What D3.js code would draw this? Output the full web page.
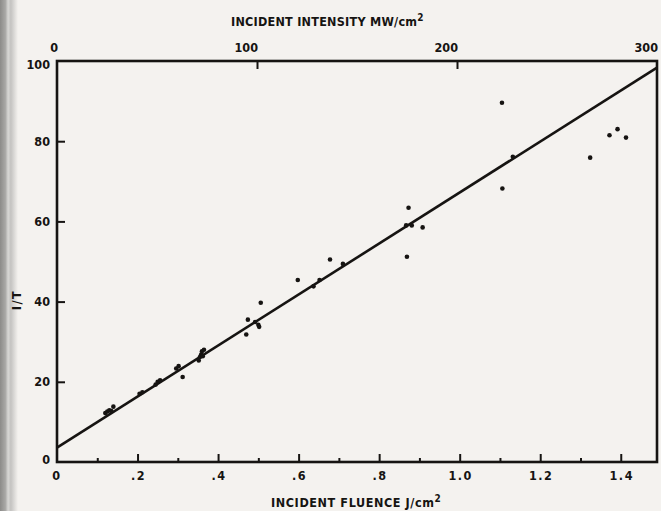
<!DOCTYPE html>
<html>
<head>
<meta charset="utf-8">
<script src="https://cdn.jsdelivr.net/npm/d3@7"></script>
<style>
  html, body { margin: 0; padding: 0; background: #f4f2ef; }
  svg { display: block; }
  text { font-family: "Liberation Sans Narrow", "DejaVu Sans Condensed", "Liberation Sans", sans-serif; font-weight: bold; fill: #161412; }
</style>
</head>
<body>
<svg id="chart" width="661" height="511"></svg>
<script>
// Measured transmission data: incident fluence (J/cm^2) vs 1/T
const fluence = [0.12, 0.125, 0.13, 0.135, 0.14, 0.205, 0.212, 0.245, 0.25, 0.256,
                 0.296, 0.302, 0.312, 0.352, 0.355, 0.358, 0.36, 0.362, 0.365,
                 0.47, 0.474, 0.492, 0.5, 0.502, 0.506, 0.598, 0.637, 0.652, 0.678, 0.71,
                 0.869, 0.873, 0.867, 0.881, 0.908, 1.106, 1.105, 1.132, 1.324, 1.372, 1.392, 1.413];
const invT    = [12.2, 12.6, 12.9, 12.7, 13.8, 17.0, 17.4, 19.3, 20.0, 20.4,
                 23.3, 23.9, 21.2, 25.3, 26.2, 26.8, 27.6, 26.4, 28.0,
                 31.8, 35.5, 34.9, 34.2, 33.7, 39.7, 45.4, 43.8, 45.4, 50.5, 49.4,
                 51.2, 63.4, 59.0, 59.0, 58.5, 68.2, 89.6, 76.1, 75.9, 81.5, 83.0, 80.9];

// Least-squares fit line: 1/T = intercept + slope * fluence
const fitIntercept = 3.6;
const fitSlope = 63.6;

// Axis ticks
const fluenceMajor = [0.2, 0.4, 0.6, 0.8, 1.0, 1.2, 1.4];
const fluenceMinor = [0.1, 0.3, 0.5, 0.7, 0.9, 1.1, 1.3];
const fluenceLabels = ["0", ".2", ".4", ".6", ".8", "1.0", "1.2", "1.4"];
const fluenceLabelValues = [0, 0.2, 0.4, 0.6, 0.8, 1.0, 1.2, 1.4];
const intensityTicks = [0, 100, 200, 300];
const invTTicks = [0, 20, 40, 60, 80, 100];

const svg = d3.select("#chart");
const plotL = 57, plotR = 657, plotT = 61, plotB = 462;

const x = d3.scaleLinear().domain([0, 1.49]).range([plotL, plotR]);
const xTop = d3.scaleLinear().domain([0, 300]).range([plotL, plotR]);
const y = d3.scaleLinear().domain([0, 100]).range([plotB, plotT]);

// scanner edge shading on the left margin
const defs = svg.append("defs");
const grad = defs.append("linearGradient").attr("id", "edge").attr("x1", 0).attr("x2", 1);
grad.append("stop").attr("offset", "0%").attr("stop-color", "#8c8b89");
grad.append("stop").attr("offset", "30%").attr("stop-color", "#a9a8a6");
grad.append("stop").attr("offset", "45%").attr("stop-color", "#d8d7d5");
grad.append("stop").attr("offset", "60%").attr("stop-color", "#c4c3c1");
grad.append("stop").attr("offset", "100%").attr("stop-color", "#f4f2ef");
svg.append("rect").attr("x", 0).attr("y", 0).attr("width", 18).attr("height", 511).attr("fill", "url(#edge)");

const ink = "#161412";

// frame
svg.append("rect")
  .attr("x", plotL).attr("y", plotT)
  .attr("width", plotR - plotL).attr("height", plotB - plotT)
  .attr("fill", "none").attr("stroke", ink).attr("stroke-width", 2.6);

// bottom axis ticks (inward)
const axisBottom = svg.append("g").attr("transform", `translate(0,${plotB})`)
  .call(d3.axisBottom(x).tickValues(fluenceMajor).tickSizeInner(-8).tickSizeOuter(0).tickFormat(""));
axisBottom.select(".domain").remove();
axisBottom.selectAll("line").attr("stroke", ink).attr("stroke-width", 2);
const axisBottomMinor = svg.append("g").attr("transform", `translate(0,${plotB})`)
  .call(d3.axisBottom(x).tickValues(fluenceMinor).tickSizeInner(-4).tickSizeOuter(0).tickFormat(""));
axisBottomMinor.select(".domain").remove();
axisBottomMinor.selectAll("line").attr("stroke", ink).attr("stroke-width", 2);

svg.append("g").selectAll("text").data(fluenceLabelValues).join("text")
  .attr("x", (d, i) => x(d) + (i === 0 ? 0 : 1))
  .attr("y", 480)
  .attr("text-anchor", "middle")
  .attr("font-size", 12.5)
  .attr("letter-spacing", 1.5)
  .text((d, i) => fluenceLabels[i]);

// left axis ticks (inward)
const axisLeft = svg.append("g").attr("transform", `translate(${plotL},0)`)
  .call(d3.axisLeft(y).tickValues([20, 40, 60, 80]).tickSizeInner(-8).tickSizeOuter(0).tickFormat(""));
axisLeft.select(".domain").remove();
axisLeft.selectAll("line").attr("stroke", ink).attr("stroke-width", 2);

svg.append("g").selectAll("text").data(invTTicks).join("text")
  .attr("x", 50)
  .attr("y", d => y(d) + (d === 100 ? 8 : d === 0 ? 2 : 4.5))
  .attr("text-anchor", "end")
  .attr("font-size", 12.5)
  .text(d => d);

// top axis ticks (inward)
const axisTop = svg.append("g").attr("transform", `translate(0,${plotT})`)
  .call(d3.axisTop(xTop).tickValues([100, 200]).tickSizeInner(-8).tickSizeOuter(0).tickFormat(""));
axisTop.select(".domain").remove();
axisTop.selectAll("line").attr("stroke", ink).attr("stroke-width", 2);

svg.append("g").selectAll("text").data(intensityTicks).join("text")
  .attr("x", d => xTop(d) + 1)
  .attr("y", 52)
  .attr("text-anchor", "end")
  .attr("font-size", 12.5)
  .text(d => d);

// axis titles
const topTitle = svg.append("text")
  .attr("x", 231).attr("y", 26)
  .attr("font-size", 12.5);
topTitle.append("tspan")
  .attr("textLength", 186).attr("lengthAdjust", "spacing")
  .text("INCIDENT INTENSITY MW/cm");
topTitle.append("tspan").attr("dy", -5).attr("font-size", 10).text("2");

const bottomTitle = svg.append("text")
  .attr("x", 271).attr("y", 507)
  .attr("font-size", 12.5);
bottomTitle.append("tspan")
  .attr("textLength", 163).attr("lengthAdjust", "spacing")
  .text("INCIDENT FLUENCE J/cm");
bottomTitle.append("tspan").attr("dy", -5).attr("font-size", 10).text("2");

svg.append("text")
  .attr("transform", "translate(21,300) rotate(-90)")
  .attr("text-anchor", "middle")
  .attr("font-size", 12.5)
  .attr("letter-spacing", 1.5)
  .text("I/T");

// fit line across the plot
const x0 = 0, x1 = x.domain()[1];
svg.append("line")
  .attr("x1", x(x0)).attr("y1", y(fitIntercept + fitSlope * x0))
  .attr("x2", x(x1)).attr("y2", y(fitIntercept + fitSlope * x1))
  .attr("stroke", ink).attr("stroke-width", 2.6);

// data points
svg.append("g").selectAll("circle").data(fluence).join("circle")
  .attr("cx", d => x(d))
  .attr("cy", (d, i) => y(invT[i]))
  .attr("r", 2.3)
  .attr("fill", ink);
</script>
</body>
</html>
